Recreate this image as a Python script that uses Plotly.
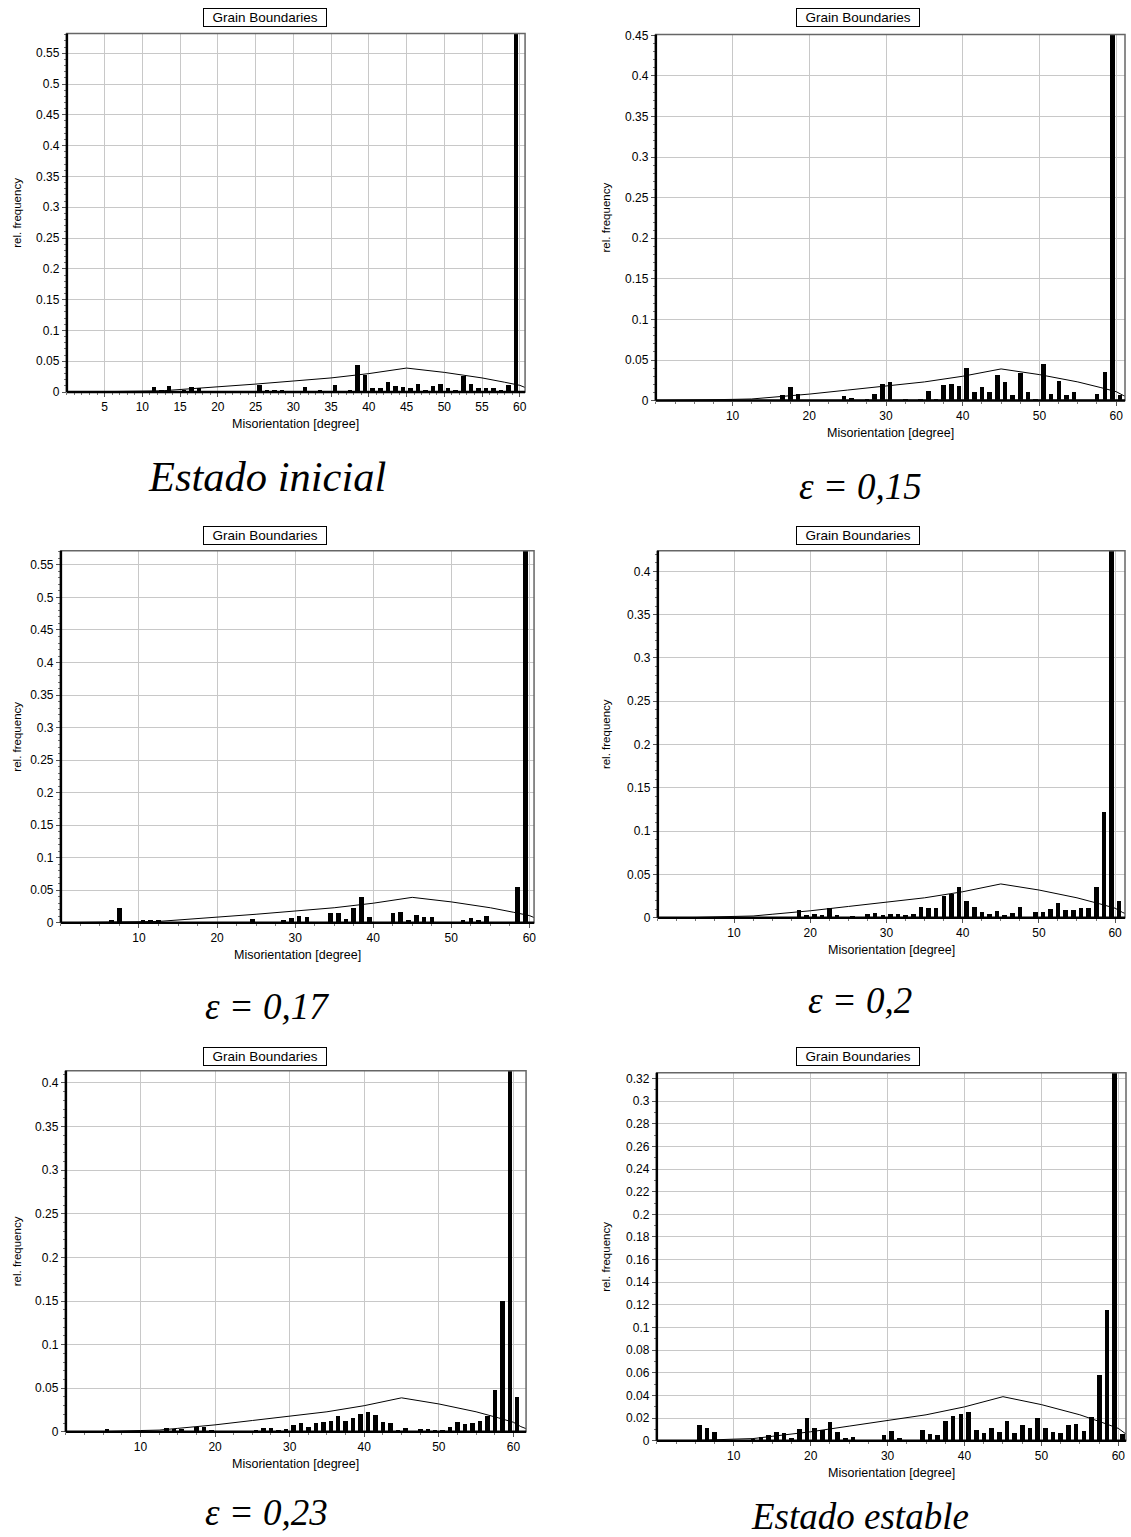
import plotly.graph_objects as go

W, H = 1131, 1537

# ---------------- data ----------------
# Mackenzie (random) distribution reference curve
mk_angles = [0, 5, 10, 12.5, 15, 20, 25, 30, 35, 40, 45, 50, 55, 58, 60, 61, 62.8]
mk_freq = [0, 0.0003, 0.0015, 0.002, 0.004, 0.008, 0.013, 0.018, 0.023, 0.030, 0.039,
           0.032, 0.023, 0.016, 0.011, 0.006, 0]

# Estado inicial
ang_1 = [11.5, 12.5, 13.5, 14.5, 15.5, 16.5, 17.5, 19.5, 21.5, 25.5, 26.5, 27.5, 28.5,
         31.5, 32.5, 33.5, 35.5, 37.5, 38.5, 39.5, 40.5, 41.5, 42.5, 43.5, 44.5, 45.5,
         46.5, 47.5, 48.5, 49.5, 50.5, 51.5, 52.5, 53.5, 54.5, 55.5, 56.5, 57.5, 58.5, 59.5]
freq_1 = [0.009, 0.004, 0.011, 0.002, 0.004, 0.009, 0.007, 0.002, 0.002, 0.012, 0.004, 0.005, 0.005,
          0.009, 0.003, 0.005, 0.012, 0.005, 0.045, 0.029, 0.007, 0.007, 0.018, 0.011, 0.009, 0.007,
          0.014, 0.004, 0.011, 0.014, 0.007, 0.005, 0.027, 0.014, 0.007, 0.007, 0.007, 0.005, 0.012, 0.62]

# epsilon = 0,15
ang_2 = [16.5, 17.5, 18.5, 24.5, 25.5, 27.5, 28.5, 29.5, 30.5, 32.5, 34.5, 35.5, 36.5, 37.5,
         38.5, 39.5, 40.5, 41.5, 42.5, 43.5, 44.5, 45.5, 46.5, 47.5, 48.5, 49.5, 50.5, 51.5,
         52.5, 53.5, 54.5, 57.5, 58.5, 59.5, 60.5]
freq_2 = [0.007, 0.017, 0.009, 0.006, 0.004, 0.003, 0.009, 0.021, 0.023, 0.002, 0.002, 0.013, 0.003, 0.020,
          0.021, 0.019, 0.041, 0.011, 0.017, 0.011, 0.032, 0.024, 0.007, 0.035, 0.011, 0.003, 0.046, 0.009,
          0.025, 0.007, 0.011, 0.009, 0.036, 0.50, 0.008]

# epsilon = 0,17
ang_3 = [6.5, 7.5, 8.5, 10.5, 11.5, 12.5, 22.5, 24.5, 27.5, 28.5, 29.5, 30.5, 31.5, 34.5, 35.5,
         36.5, 37.5, 38.5, 39.5, 40.5, 41.5, 42.5, 43.5, 44.5, 45.5, 46.5, 47.5, 48.5, 51.5,
         52.5, 53.5, 54.5, 55.5, 58.5, 59.5]
freq_3 = [0.004, 0.023, 0.002, 0.004, 0.004, 0.004, 0.002, 0.006, 0.002, 0.004, 0.008, 0.011, 0.010, 0.015, 0.015,
          0.006, 0.023, 0.040, 0.010, 0.002, 0.002, 0.015, 0.017, 0.004, 0.012, 0.010, 0.010, 0.002, 0.004,
          0.008, 0.004, 0.011, 0.002, 0.056, 0.62]

# epsilon = 0,2
ang_4 = [18.5, 19.5, 20.5, 21.5, 22.5, 23.5, 25.5, 27.5, 28.5, 29.5, 30.5, 31.5, 32.5, 33.5, 34.5,
         35.5, 36.5, 37.5, 38.5, 39.5, 40.5, 41.5, 42.5, 43.5, 44.5, 45.5, 46.5, 47.5, 49.5, 50.5,
         51.5, 52.5, 53.5, 54.5, 55.5, 56.5, 57.5, 58.5, 59.5, 60.5]
freq_4 = [0.009, 0.004, 0.005, 0.004, 0.012, 0.003, 0.002, 0.005, 0.006, 0.004, 0.005, 0.005, 0.004, 0.005, 0.013,
          0.012, 0.012, 0.026, 0.028, 0.036, 0.020, 0.013, 0.007, 0.005, 0.008, 0.003, 0.006, 0.013, 0.007, 0.007,
          0.010, 0.018, 0.009, 0.009, 0.012, 0.012, 0.036, 0.123, 0.50, 0.020]

# epsilon = 0,23
ang_5 = [5.5, 13.5, 14.5, 15.5, 17.5, 18.5, 19.5, 25.5, 26.5, 27.5, 28.5, 29.5, 30.5, 31.5, 32.5,
         33.5, 34.5, 35.5, 36.5, 37.5, 38.5, 39.5, 40.5, 41.5, 42.5, 43.5, 44.5, 45.5, 47.5, 48.5,
         49.5, 50.5, 51.5, 52.5, 53.5, 54.5, 55.5, 56.5, 57.5, 58.5, 59.5, 60.5]
freq_5 = [0.003, 0.005, 0.003, 0.003, 0.006, 0.006, 0.002, 0.002, 0.005, 0.005, 0.002, 0.004, 0.008, 0.010, 0.006,
          0.010, 0.012, 0.013, 0.018, 0.013, 0.016, 0.021, 0.023, 0.020, 0.012, 0.010, 0.002, 0.005, 0.004, 0.003,
          0.002, 0.002, 0.006, 0.012, 0.009, 0.010, 0.013, 0.019, 0.048, 0.150, 0.50, 0.040]

# Estado estable
ang_6 = [5.5, 6.5, 7.5, 8.5, 9.5, 10.5, 11.5, 12.5, 13.5, 14.5, 15.5, 16.5, 17.5, 18.5, 19.5, 20.5,
         21.5, 22.5, 23.5, 24.5, 25.5, 28.5, 29.5, 30.5, 31.5, 34.5, 35.5, 36.5, 37.5, 38.5, 39.5,
         40.5, 41.5, 42.5, 43.5, 44.5, 45.5, 46.5, 47.5, 48.5, 49.5, 50.5, 51.5, 52.5, 53.5, 54.5,
         55.5, 56.5, 57.5, 58.5, 59.5, 60.5]
freq_6 = [0.014, 0.012, 0.008, 0.001, 0.001, 0.001, 0.001, 0.002, 0.004, 0.005, 0.008, 0.007, 0.003, 0.011, 0.020, 0.012,
          0.010, 0.017, 0.008, 0.003, 0.004, 0.001, 0.005, 0.009, 0.003, 0.010, 0.006, 0.005, 0.018, 0.022, 0.024,
          0.026, 0.010, 0.007, 0.012, 0.008, 0.018, 0.007, 0.014, 0.012, 0.020, 0.012, 0.008, 0.007, 0.014, 0.015,
          0.009, 0.021, 0.058, 0.116, 0.40, 0.006]

captions = ["Estado inicial", "ε = 0,15", "ε = 0,17", "ε = 0,2", "ε = 0,23", "Estado estable"]
y_tick_steps = [0.05, 0.05, 0.05, 0.05, 0.05, 0.02]
x_tick_steps = [5, 10, 10, 10, 10, 10]

panels_data = [(ang_1, freq_1), (ang_2, freq_2), (ang_3, freq_3),
               (ang_4, freq_4), (ang_5, freq_5), (ang_6, freq_6)]

# ---------------- layout specs (pixels, as seen in the reference) ----------------
# plot-area boxes: (left, right, top, bottom) in px, x-range max, y-range max
boxes = [
    (67, 526, 33, 391.5, 60.7, 0.582),
    (657, 1127, 34, 400, 61.15, 0.451),
    (61, 535, 550, 922, 60.6, 0.572),
    (659, 1127, 550, 917, 61.3, 0.424),
    (66, 527, 1070, 1431, 61.7, 0.414),
    (658, 1128, 1072, 1440, 61.0, 0.325),
]
title_pos = [(265, 17), (860, 17), (265, 535), (860, 535), (265, 1056), (860, 1056)]
caption_pos = [(267, 476), (862, 486), (267, 1006), (862, 1000), (267, 1512), (862, 1516)]
caption_size = [42.5, 37, 37, 37, 37, 37]
ylabel_x = [17, 607, 17, 607, 17, 607]

SANS = "Liberation Sans, Arial, sans-serif"
SERIF = "Liberation Serif, Times New Roman, serif"

# rendering calibration (observed vertical offset/scale of the page capture)
Y_OFF, Y_SCALE = 5.5, 0.9913

def px_x(p):
    return p / W

def px_y(p):
    q = (p - Y_OFF) / Y_SCALE
    return 1 - q / H

fig = go.Figure()
shapes = []
annotations = []
layout_axes = {}

for i, ((ang, fr), box) in enumerate(zip(panels_data, boxes)):
    n = i + 1
    sfx = "" if n == 1 else str(n)
    xa, ya = "x" + sfx, "y" + sfx
    l, r, t, b, xmax, ymax = box

    fig.add_trace(go.Scatter(x=mk_angles, y=mk_freq, mode="lines",
                             line=dict(color="black", width=1),
                             xaxis=xa, yaxis=ya, showlegend=False, hoverinfo="skip"))
    fig.add_trace(go.Bar(x=ang, y=fr, width=0.6, marker=dict(color="black", line=dict(width=0)),
                         xaxis=xa, yaxis=ya, showlegend=False))

    xs = x_tick_steps[i]
    xt = list(range(xs, 61, xs))
    ystep = y_tick_steps[i]
    nyt = int(round(ymax / ystep + 1e-9)) + 1
    yt = [round(k * ystep, 3) for k in range(nyt) if k * ystep <= ymax + 1e-9]
    ytxt = [f"{v:g}" for v in yt]

    layout_axes["xaxis" + sfx] = dict(
        domain=[px_x(l), px_x(r)], range=[0, xmax], anchor=ya,
        tickmode="array", tickvals=xt, ticktext=[str(v) for v in xt],
        showgrid=True, gridcolor="#c8c8c8", gridwidth=1, zeroline=False,
        showline=False, ticks="outside", ticklen=4, tickcolor="#555",
        minor=dict(ticks="outside", tick0=0, dtick=(1 if xs == 5 else 2.5), ticklen=2,
                   tickcolor="#777", showgrid=False),
        tickfont=dict(family=SANS, size=12, color="black"), fixedrange=True,
    )
    layout_axes["yaxis" + sfx] = dict(
        domain=[px_y(b), px_y(t)], range=[0, ymax], anchor=xa,
        tickmode="array", tickvals=yt, ticktext=ytxt,
        showgrid=True, gridcolor="#c8c8c8", gridwidth=1, zeroline=False,
        showline=False, ticks="outside", ticklen=4, tickcolor="#555",
        minor=dict(ticks="outside", tick0=0, dtick=0.01, ticklen=2, tickcolor="#777", showgrid=False),
        tickfont=dict(family=SANS, size=12, color="black"), fixedrange=True,
    )

    # frame
    shapes.append(dict(type="rect", xref=xa + " domain", yref=ya + " domain",
                       x0=0, x1=1, y0=0, y1=1, line=dict(color="#666", width=1.5), layer="above"))
    shapes.append(dict(type="line", xref=xa + " domain", yref=ya + " domain",
                       x0=0, x1=0, y0=0, y1=1, line=dict(color="black", width=2.5), layer="above"))
    shapes.append(dict(type="line", xref=xa + " domain", yref=ya + " domain",
                       x0=0, x1=1, y0=0, y1=0, line=dict(color="black", width=2.5), layer="above"))

    # box title
    tx, ty = title_pos[i]
    annotations.append(dict(text="&nbsp;&nbsp;Grain Boundaries&nbsp;&nbsp;", x=px_x(tx), y=px_y(ty),
                            xref="paper", yref="paper",
                            showarrow=False, font=dict(family=SANS, size=13.5, color="black"),
                            bordercolor="black", borderwidth=1, borderpad=1, bgcolor="white",
                            xanchor="center", yanchor="middle"))
    # y label
    annotations.append(dict(text="rel. frequency", x=px_x(ylabel_x[i]), y=px_y((t + b) / 2),
                            xref="paper", yref="paper", showarrow=False, textangle=-90,
                            font=dict(family=SANS, size=11.5, color="black"),
                            xanchor="center", yanchor="middle"))
    # x label
    annotations.append(dict(text="Misorientation [degree]", x=px_x((l + r) / 2), y=px_y(b + 32),
                            xref="paper", yref="paper", showarrow=False,
                            font=dict(family=SANS, size=12.5, color="black"),
                            xanchor="center", yanchor="middle"))
    # caption
    cx, cy = caption_pos[i]
    annotations.append(dict(text="<i>" + captions[i] + "</i>", x=px_x(cx), y=px_y(cy),
                            xref="paper", yref="paper", showarrow=False,
                            font=dict(family=SERIF, size=caption_size[i], color="black"),
                            xanchor="center", yanchor="middle"))

fig.update_layout(
    width=W, height=H, margin=dict(l=0, r=0, t=0, b=0),
    paper_bgcolor="white", plot_bgcolor="white",
    bargap=0, showlegend=False,
    shapes=shapes, annotations=annotations,
    **layout_axes,
)

fig.write_html("out.html", config={"displayModeBar": False},
               post_script="document.body.style.margin='0';document.body.style.padding='0';"
                           "document.documentElement.style.overflow='hidden';")
